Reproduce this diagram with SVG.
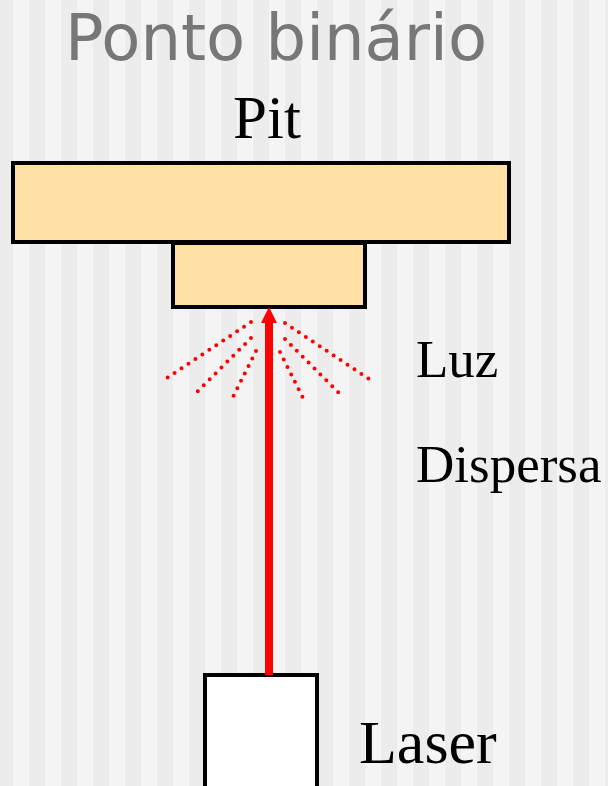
<svg xmlns="http://www.w3.org/2000/svg" width="608" height="786" viewBox="0 0 608 786">
  <defs>
    <pattern id="stripes" patternUnits="userSpaceOnUse" x="13" y="0" width="32" height="786">
      <rect x="0" y="0" width="16" height="786" fill="#f4f4f4"/>
      <rect x="16" y="0" width="16" height="786" fill="#ececec"/>
    </pattern>
    <marker id="head" markerUnits="userSpaceOnUse" markerWidth="16" markerHeight="16" refX="0" refY="8" orient="auto" overflow="visible">
      <path d="M0,0 L16,8 L0,16 Z" fill="#ff0000"/>
    </marker>
  </defs>
  <style>
    .block { fill: #ffe0a5; stroke: #000; stroke-width: 4; }
    .box { fill: #fff; stroke: #000; stroke-width: 4; }
    .serif { font-family: "Liberation Serif", "Times New Roman", serif; fill: #000; }
    .title { font-family: "DejaVu Sans", Verdana, sans-serif; fill: #777; font-size: 64px; }
    .ray { stroke: #ff0000; stroke-width: 4; stroke-linecap: round; stroke-dasharray: 0 8.35; fill: none; }
    .beam { stroke: #ff0000; stroke-width: 8; fill: none; }
  </style>

  <rect x="0" y="0" width="608" height="786" fill="url(#stripes)"/>

  <text class="title" x="276" y="60" text-anchor="middle">Ponto binário</text>

  <g id="pit">
    <rect class="block" x="13" y="163" width="496" height="79"/>
    <rect class="block" x="173" y="243" width="192" height="64"/>
    <text class="serif" x="267" y="138" font-size="61" text-anchor="middle">Pit</text>
  </g>

  <g id="laser">
    <rect class="box" x="205" y="675" width="112" height="120"/>
    <text class="serif" x="359" y="763" font-size="62">Laser</text>
  </g>

  <g id="scatter">
    <line class="ray" x1="251" y1="322" x2="161" y2="382"/>
    <line class="ray" x1="251" y1="338" x2="192" y2="397"/>
    <line class="ray" x1="256" y1="351" x2="230" y2="403"/>
    <line class="ray" x1="280" y1="352" x2="306" y2="404"/>
    <line class="ray" x1="285" y1="339" x2="344" y2="398"/>
    <line class="ray" x1="285" y1="323" x2="375" y2="383"/>
    <text class="serif" x="416" y="377" font-size="53">Luz</text>
    <text class="serif" x="416" y="482" font-size="53">Dispersa</text>
  </g>

  <g id="connectors">
    <line class="beam" x1="269" y1="675" x2="269" y2="323" marker-end="url(#head)"/>
  </g>
</svg>
